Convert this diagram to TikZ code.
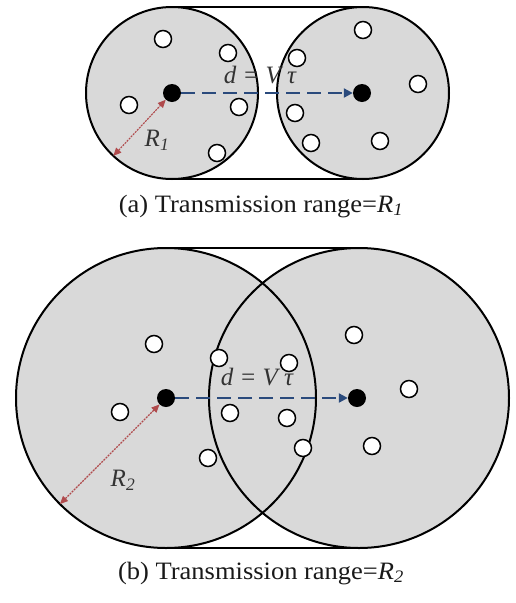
\documentclass[tikz,border=0pt]{standalone}
\usepackage{fontspec}
\setmainfont{Liberation Serif}
\newfontfamily\capfont[FakeStretch=1.06]{Liberation Serif}
\usetikzlibrary{arrows.meta,calc}
\definecolor{diskgray}{HTML}{D9D9D9}
\definecolor{navyarrow}{HTML}{2A4A7C}
\definecolor{redarrow}{HTML}{B04A4C}
\tikzset{
  disk/.style={fill=diskgray},
  rim/.style={draw=black, line width=2pt},
  tangent/.style={draw=black, line width=1.6pt},
  dot/.style={circle, fill=black, minimum size=18pt, inner sep=0pt},
  hole/.style={circle, draw=black, fill=white, line width=1.5pt, minimum size=17pt, inner sep=0pt},
  move/.style={draw=navyarrow, line width=2.2pt, dash pattern=on 14pt off 7pt, -{Triangle[length=9pt,width=9pt]}},
  radius/.style={draw=redarrow, line width=1.1pt, dash pattern=on 2pt off 1pt, {Triangle[length=8pt,width=7pt]}-{Triangle[length=8pt,width=7pt]}},
  lbl/.style={font=\fontsize{25}{28}\selectfont\itshape, text=black!80, inner sep=0pt},
  caption/.style={font=\fontsize{25}{28}\selectfont\capfont, text=black!90, inner sep=0pt, anchor=base}
}
\begin{document}
\begin{tikzpicture}[x=1pt,y=-1pt]
\useasboundingbox (0,0) rectangle (515,603);
% ---------- (a) ----------
\fill[disk] (172,93) circle (86);
\fill[disk] (363,93) circle (86);
\draw[tangent] (172,7) -- (363,7);
\draw[tangent] (172,179) -- (363,179);
\draw[rim] (172,93) circle (86);
\draw[rim] (363,93) circle (86);
\foreach \p in {(163,39),(228,53),(129,105),(239,107),(217,153),
                (297,58),(363,30),(418,84),(295,113),(311,143),(380,141)}
  \node[hole] at \p {};
\node[dot] (a1) at (172,93) {};
\node[dot] (a2) at (362,93) {};
\coordinate (ae) at ($(a1)+(133:86)$);
\draw[move] (a1) -- (a2);
\draw[radius] (ae) -- (a1);
\node[lbl] (ad) at (260,75) {d = V τ};
\node[lbl] (ar) at (157,140) {R\textsubscript{1}};
\node[caption] (acap) at (261,212) {(a) Transmission range=\textit{R}\textsubscript{\textit{1}}};
% ---------- (b) ----------
\fill[disk] (166,398) circle (150);
\fill[disk] (359,398) circle (150);
\draw[tangent] (166,248) -- (359,248);
\draw[tangent] (166,548) -- (359,548);
\draw[rim] (166,398) circle (150);
\draw[rim] (359,398) circle (150);
\foreach \p in {(154,344),(219,358),(289,363),(354,335),(120,412),(230,413),
                (287,418),(409,389),(208,458),(303,448),(372,446)}
  \node[hole] at \p {};
\node[dot] (b1) at (166,398) {};
\node[dot] (b2) at (357,398) {};
\coordinate (be) at ($(b1)+(135:150)$);
\draw[move] (b1) -- (b2);
\draw[radius] (be) -- (b1);
\node[lbl] (bd) at (257,377) {d = V τ};
\node[lbl] (br) at (123,480) {R\textsubscript{2}};
\node[caption] (bcap) at (261,579) {(b) Transmission range=\textit{R}\textsubscript{\textit{2}}};
\end{tikzpicture}
\end{document}
